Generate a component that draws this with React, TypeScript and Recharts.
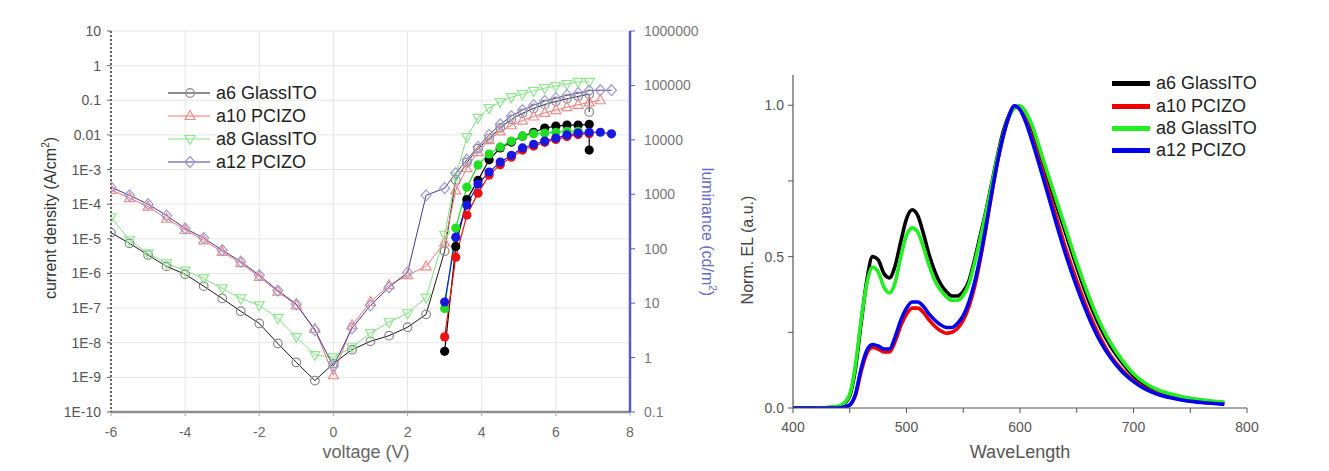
import React from 'react';
import { ComposedChart, LineChart, Line, XAxis, YAxis, CartesianGrid } from 'recharts';

// ---------- series names ----------
const seriesNames = ['a6 GlassITO', 'a10 PCIZO', 'a8 GlassITO', 'a12 PCIZO'];

// ---------- left panel: J-V-L ----------
const a6Voltage = [-6, -5.5, -5, -4.5, -4, -3.5, -3, -2.5, -2, -1.5, -1, -0.5, 0, 0.5, 1, 1.5, 2, 2.5, 3, 3.3, 3.6, 3.9, 4.2, 4.5, 4.8, 5.1, 5.4, 5.7, 6, 6.3, 6.6, 6.9, 6.9];
const a6Current = [1.5e-5, 7.4e-6, 3.4e-6, 1.6e-6, 9.5e-7, 4.3e-7, 1.9e-7, 8.1e-8, 3.6e-8, 9.5e-9, 2.7e-9, 8.1e-10, 2.5e-9, 6.3e-9, 1.1e-8, 1.6e-8, 2.8e-8, 6.6e-8, 4.4e-6, 5.0e-4, 1.6e-3, 4.0e-3, 7.9e-3, 1.6e-2, 2.8e-2, 4.2e-2, 5.8e-2, 7.6e-2, 9.3e-2, 0.11, 0.13, 0.15, 0.046];

const a10Voltage = [-6, -5.5, -5, -4.5, -4, -3.5, -3, -2.5, -2, -1.5, -1, -0.5, 0, 0.5, 1, 1.5, 2, 2.5, 3, 3.3, 3.6, 3.9, 4.2, 4.5, 4.8, 5.1, 5.4, 5.7, 6, 6.3, 6.6, 6.9, 7.2];
const a10Current = [2.6e-4, 1.5e-4, 8.5e-5, 3.8e-5, 1.8e-5, 9e-6, 4.2e-6, 2.0e-6, 8e-7, 3e-7, 1.2e-7, 2.5e-8, 1.15e-9, 3.2e-8, 1.5e-7, 4.6e-7, 8.9e-7, 1.6e-6, 7.9e-6, 2.5e-4, 1.1e-3, 3.2e-3, 7.1e-3, 1.26e-2, 1.9e-2, 2.6e-2, 3.4e-2, 4.3e-2, 5.2e-2, 6.3e-2, 7.4e-2, 8.7e-2, 0.1];

const a8Voltage = [-6, -5.5, -5, -4.5, -4, -3.5, -3, -2.5, -2, -1.5, -1, -0.5, 0, 0.5, 1, 1.5, 2, 2.5, 3, 3.3, 3.6, 3.9, 4.2, 4.5, 4.8, 5.1, 5.4, 5.7, 6, 6.3, 6.6, 6.9];
const a8Current = [4.2e-5, 9.1e-6, 3.8e-6, 1.95e-6, 1.2e-6, 7.2e-7, 3.7e-7, 1.9e-7, 1.2e-7, 5.1e-8, 1.45e-8, 4.4e-9, 3.8e-9, 7.4e-9, 1.9e-8, 3.9e-8, 7.1e-8, 2.0e-7, 1.3e-5, 6.3e-4, 8.7e-3, 3.1e-2, 5.9e-2, 8.9e-2, 0.123, 0.15, 0.186, 0.224, 0.257, 0.295, 0.339, 0.339];

const a12Voltage = [-6, -5.5, -5, -4.5, -4, -3.5, -3, -2.5, -2, -1.5, -1, -0.5, 0, 0.5, 1, 1.5, 2, 2.5, 3, 3.3, 3.6, 3.9, 4.2, 4.5, 4.8, 5.1, 5.4, 5.7, 6, 6.3, 6.6, 6.9, 7.2, 7.5];
const a12Current = [3.1e-4, 1.8e-4, 1.0e-4, 4.7e-5, 2.0e-5, 1.05e-5, 4.7e-6, 2.2e-6, 8.9e-7, 3.2e-7, 1.3e-7, 2.3e-8, 2.1e-9, 2.6e-8, 1.2e-7, 4.0e-7, 1.07e-6, 1.8e-4, 2.9e-4, 7.9e-4, 1.9e-3, 4.5e-3, 1.0e-2, 2.0e-2, 3.5e-2, 5.2e-2, 7.2e-2, 9.5e-2, 0.115, 0.14, 0.16, 0.19, 0.195, 0.195];

const a6LumVoltage = [3, 3.3, 3.6, 3.9, 4.2, 4.5, 4.8, 5.1, 5.4, 5.7, 6, 6.3, 6.6, 6.9, 6.9];
const a6Luminance = [1.3, 110, 800, 1800, 4300, 7100, 9100, 11700, 13800, 16500, 17900, 18700, 18700, 19300, 6500];
const a10LumVoltage = [3, 3.3, 3.6, 3.9, 4.2, 4.5, 4.8, 5.1, 5.4, 5.7, 6, 6.3, 6.6, 6.9];
const a10Luminance = [2.4, 70, 415, 1050, 2250, 3500, 4800, 6500, 7700, 9000, 10200, 11500, 12500, 13000];
const a8LumVoltage = [3, 3.3, 3.6, 3.9, 4.2, 4.5, 4.8, 5.1, 5.4, 5.7, 6, 6.3, 6.6];
const a8Luminance = [8, 240, 1350, 3460, 5500, 7400, 9500, 11700, 12900, 13300, 13800, 14400, 14400];
const a12LumVoltage = [3, 3.3, 3.6, 3.9, 4.2, 4.5, 4.8, 5.1, 5.4, 5.7, 6, 6.3, 6.6, 6.9, 7.2, 7.5];
const a12Luminance = [10.5, 163, 630, 1540, 2560, 3900, 5200, 7100, 8300, 9500, 10800, 12300, 13300, 13800, 13800, 12900];

const voltageTicks = [-6, -4, -2, 0, 2, 4, 6, 8];
const voltageMinorTicks = [-6, -5, -4, -3, -2, -1, 0, 1, 2, 3, 4, 5, 6, 7, 8];
const currentTicks = [1e-10, 1e-9, 1e-8, 1e-7, 1e-6, 1e-5, 1e-4, 1e-3, 1e-2, 1e-1, 1, 10];
const currentTickLabels = ['1E-10', '1E-9', '1E-8', '1E-7', '1E-6', '1E-5', '1E-4', '1E-3', '0.01', '0.1', '1', '10'];
const lumTicks = [0.1, 1, 10, 100, 1000, 10000, 100000, 1000000];
const lumTickLabels = ['0.1', '1', '10', '100', '1000', '10000', '100000', '1000000'];

// ---------- right panel: EL spectra ----------
const wavelength = [400, 420, 440, 445, 450, 455, 460, 465, 470, 475, 480, 485, 490, 495, 500, 505, 510, 515, 520, 525, 530, 535, 540, 545, 550, 555, 560, 565, 570, 575, 580, 585, 590, 595, 600, 605, 610, 620, 630, 640, 650, 660, 670, 680, 690, 700, 710, 720, 740, 760, 780];
const elA6 = [0, 0, 0.005, 0.014, 0.04, 0.13, 0.28, 0.42, 0.5, 0.49, 0.445, 0.43, 0.47, 0.55, 0.625, 0.655, 0.635, 0.575, 0.505, 0.45, 0.41, 0.385, 0.37, 0.37, 0.385, 0.42, 0.49, 0.57, 0.65, 0.74, 0.83, 0.91, 0.965, 0.995, 0.996, 0.97, 0.93, 0.81, 0.695, 0.58, 0.465, 0.36, 0.272, 0.203, 0.15, 0.106, 0.078, 0.058, 0.037, 0.025, 0.017];
const elA10 = [0, 0, 0, 0.003, 0.01, 0.042, 0.12, 0.18, 0.2, 0.195, 0.185, 0.185, 0.22, 0.272, 0.31, 0.33, 0.33, 0.315, 0.29, 0.27, 0.255, 0.247, 0.25, 0.263, 0.29, 0.335, 0.4, 0.49, 0.595, 0.705, 0.81, 0.895, 0.96, 0.996, 0.99, 0.953, 0.9, 0.78, 0.655, 0.53, 0.42, 0.32, 0.238, 0.172, 0.126, 0.09, 0.066, 0.05, 0.03, 0.02, 0.014];
const elA8 = [0, 0, 0.006, 0.016, 0.045, 0.14, 0.29, 0.41, 0.465, 0.45, 0.4, 0.38, 0.415, 0.5, 0.57, 0.595, 0.58, 0.53, 0.47, 0.42, 0.39, 0.368, 0.356, 0.356, 0.372, 0.41, 0.48, 0.56, 0.645, 0.735, 0.825, 0.9, 0.96, 0.99, 0.998, 0.978, 0.94, 0.825, 0.71, 0.595, 0.48, 0.375, 0.285, 0.214, 0.158, 0.113, 0.083, 0.062, 0.04, 0.027, 0.019];
const elA12 = [0, 0, 0, 0.003, 0.01, 0.045, 0.13, 0.19, 0.21, 0.205, 0.195, 0.195, 0.235, 0.29, 0.33, 0.35, 0.35, 0.335, 0.31, 0.29, 0.275, 0.266, 0.266, 0.28, 0.305, 0.35, 0.415, 0.5, 0.6, 0.71, 0.81, 0.895, 0.96, 0.998, 0.985, 0.945, 0.89, 0.765, 0.635, 0.51, 0.4, 0.305, 0.225, 0.165, 0.12, 0.087, 0.063, 0.047, 0.028, 0.018, 0.012];

const wlTicks = [400, 450, 500, 550, 600, 650, 700, 750, 800];
const elTicks = [0, 0.25, 0.5, 0.75, 1.0];

// ---------- styles ----------
const jLineColors = ['#1a1a1a', '#f07474', '#7fe07f', '#4a3590'];
const jMarkerColors = ['#8a8a8a', '#f08c8c', '#8fe88f', '#9a9ad4'];
const lumColors = ['#000000', '#ee1111', '#22dd22', '#1818e0'];
const specColors = ['#000000', '#ee0000', '#22ee22', '#0000ee'];
const FONT = '"Liberation Sans", Arial, sans-serif';

const toPoints = (vs: number[], ys: number[]) => vs.map((v, i) => ({ v, y: ys[i] }));

const jSeries = [
  toPoints(a6Voltage, a6Current),
  toPoints(a10Voltage, a10Current),
  toPoints(a8Voltage, a8Current),
  toPoints(a12Voltage, a12Current),
];
const lumSeries = [
  toPoints(a6LumVoltage, a6Luminance),
  toPoints(a10LumVoltage, a10Luminance),
  toPoints(a8LumVoltage, a8Luminance),
  toPoints(a12LumVoltage, a12Luminance),
];
const specTable = wavelength.map((w, i) => ({ w, a6: elA6[i], a10: elA10[i], a8: elA8[i], a12: elA12[i] }));
const specKeys = ['a6', 'a10', 'a8', 'a12'];

function markerShape(kind: number, cx: number, cy: number, stroke: string, key: string) {
  if (kind === 0) return <circle key={key} cx={cx} cy={cy} r={4.3} fill="none" stroke={stroke} strokeWidth={1.2} />;
  if (kind === 1) return <polygon key={key} points={`${cx},${cy - 5.5} ${cx - 5},${cy + 3.5} ${cx + 5},${cy + 3.5}`} fill="none" stroke={stroke} strokeWidth={1.2} />;
  if (kind === 2) return <polygon key={key} points={`${cx},${cy + 5.5} ${cx - 5},${cy - 3.5} ${cx + 5},${cy - 3.5}`} fill="none" stroke={stroke} strokeWidth={1.2} />;
  return <polygon key={key} points={`${cx},${cy - 5.5} ${cx + 5},${cy} ${cx},${cy + 5.5} ${cx - 5},${cy}`} fill="none" stroke={stroke} strokeWidth={1.2} />;
}

const logLabel = (ticks: number[], labels: string[]) => (v: number) => {
  const idx = ticks.findIndex((t) => Math.abs(Math.log10(t) - Math.log10(v)) < 0.01);
  return idx >= 0 ? labels[idx] : '';
};

function LeftChart() {
  return (
    <ComposedChart width={720} height={471} margin={{ top: 31, right: 30, bottom: 29, left: 51 }}>
      <CartesianGrid xAxisId="b" yAxisId="j" stroke="#e6e6e6" strokeWidth={1} />
      <XAxis
        xAxisId="b"
        type="number"
        dataKey="v"
        domain={[-6, 8]}
        ticks={voltageTicks}
        allowDataOverflow
        height={30}
        axisLine={{ stroke: '#8c8c8c', strokeWidth: 2.5 }}
        tickLine={{ stroke: '#aaa' }}
        tickSize={4}
        tickMargin={11}
        tick={{ fill: '#666', fontSize: 14, fontFamily: FONT }}
        interval={0}
      />
      <XAxis
        xAxisId="t"
        orientation="top"
        type="number"
        dataKey="v"
        domain={[-6, 8]}
        ticks={voltageMinorTicks}
        allowDataOverflow
        height={0}
        mirror
        axisLine={{ stroke: '#111', strokeWidth: 1.5 }}
        tickLine={{ stroke: '#bbb' }}
        tickSize={3}
        tickFormatter={() => ''}
        interval={0}
      />
      <YAxis
        yAxisId="j"
        scale="log"
        domain={[1e-10, 10]}
        ticks={currentTicks}
        allowDataOverflow
        width={60}
        axisLine={{ stroke: '#333', strokeWidth: 1.5, strokeDasharray: '2 2' }}
        tickLine={{ stroke: '#666' }}
        tickSize={4}
        tickMargin={6}
        tick={{ fill: '#555', fontSize: 14, fontFamily: FONT }}
        tickFormatter={logLabel(currentTicks, currentTickLabels)}
        interval={0}
      />
      <YAxis
        yAxisId="l"
        orientation="right"
        scale="log"
        domain={[0.1, 1000000]}
        ticks={lumTicks}
        allowDataOverflow
        width={60}
        axisLine={{ stroke: '#5a5ac8', strokeWidth: 2.5 }}
        tickLine={{ stroke: '#5a5ac8' }}
        tickSize={5}
        tickMargin={9}
        tick={{ fill: '#777', fontSize: 14, fontFamily: FONT }}
        tickFormatter={logLabel(lumTicks, lumTickLabels)}
        interval={0}
      />
      {jSeries.map((pts, s) => (
        <Line
          key={`j${s}`}
          xAxisId="b"
          yAxisId="j"
          data={pts}
          dataKey="y"
          type="linear"
          stroke={jLineColors[s]}
          strokeWidth={1}
          isAnimationActive={false}
          activeDot={false}
          dot={(p: any) => markerShape(s, p.cx, p.cy, jMarkerColors[s], `jm${s}-${p.index}`)}
        />
      ))}
      {lumSeries.map((pts, s) => (
        <Line
          key={`l${s}`}
          xAxisId="b"
          yAxisId="l"
          data={pts}
          dataKey="y"
          type="linear"
          stroke={lumColors[s]}
          strokeWidth={1.2}
          isAnimationActive={false}
          activeDot={false}
          dot={(p: any) => <circle key={`lm${s}-${p.index}`} cx={p.cx} cy={p.cy} r={4.6} fill={lumColors[s]} stroke="none" />}
        />
      ))}
    </ComposedChart>
  );
}

function RightChart() {
  return (
    <LineChart width={629} height={471} data={specTable} margin={{ top: 75, right: 82, bottom: 33, left: 33 }}>
      <XAxis
        type="number"
        dataKey="w"
        domain={[400, 800]}
        ticks={wlTicks}
        height={30}
        axisLine={{ stroke: '#555', strokeWidth: 1.2 }}
        tickLine={{ stroke: '#555' }}
        tickSize={5}
        tickMargin={9}
        tick={{ fill: '#555', fontSize: 14, fontFamily: FONT }}
        tickFormatter={(v: number) => (v % 100 === 0 ? String(v) : '')}
        interval={0}
      />
      <YAxis
        domain={[0, 1.1]}
        ticks={elTicks}
        allowDataOverflow
        width={60}
        axisLine={{ stroke: '#555', strokeWidth: 1.2 }}
        tickLine={{ stroke: '#555' }}
        tickSize={5}
        tickMargin={4}
        tick={{ fill: '#555', fontSize: 14, fontFamily: FONT }}
        tickFormatter={(v: number) => (Math.abs(v * 2 - Math.round(v * 2)) < 1e-6 ? v.toFixed(1) : '')}
        interval={0}
      />
      {specKeys.map((k, s) => (
        <Line
          key={k}
          dataKey={k}
          type="monotone"
          stroke={specColors[s]}
          strokeWidth={3.6}
          dot={false}
          activeDot={false}
          isAnimationActive={false}
        />
      ))}
    </LineChart>
  );
}

const abs = (left: number, top: number, extra: React.CSSProperties = {}): React.CSSProperties => ({
  position: 'absolute',
  left,
  top,
  whiteSpace: 'nowrap',
  fontFamily: FONT,
  ...extra,
});

export default function App() {
  const leftLegendY = [93, 116, 139, 162];
  const rightLegendY = [83, 106, 128, 150];
  return (
    <div style={{ position: 'absolute', left: 0, top: 0, width: 1329, height: 471, background: '#fff', overflow: 'hidden' }}>
      <div style={{ position: 'absolute', left: 0, top: 0 }}>
        <LeftChart />
      </div>
      <div style={{ position: 'absolute', left: 700, top: 0 }}>
        <RightChart />
      </div>

      {/* left panel titles */}
      <div style={abs(50, 218, { transform: 'translate(-50%, -50%) rotate(-90deg)', fontSize: 16, color: '#333' })}>
        current density (A/cm<sup style={{ fontSize: 10 }}>2</sup>)
      </div>
      <div style={abs(708, 232, { transform: 'translate(-50%, -50%) rotate(90deg)', fontSize: 16, color: '#6a6ac8' })}>
        luminance (cd/m<sup style={{ fontSize: 10 }}>2</sup>)
      </div>
      <div style={abs(366, 452, { transform: 'translate(-50%, -50%)', fontSize: 18, color: '#666' })}>voltage (V)</div>

      {/* right panel titles */}
      <div style={abs(748, 250, { transform: 'translate(-50%, -50%) rotate(-90deg)', fontSize: 16, color: '#444' })}>Norm. EL (a.u.)</div>
      <div style={abs(1020, 452, { transform: 'translate(-50%, -50%)', fontSize: 18, color: '#555' })}>WaveLength</div>

      {/* left legend */}
      {seriesNames.map((name, s) => (
        <div key={`ll${s}`}>
          <svg style={{ position: 'absolute', left: 166, top: leftLegendY[s] - 8 }} width={48} height={16}>
            <line x1={2} y1={8} x2={44} y2={8} stroke={jLineColors[s]} strokeWidth={1} />
            {markerShape(s, 24, 8, jMarkerColors[s], `lg${s}`)}
          </svg>
          <div style={abs(216, leftLegendY[s], { transform: 'translateY(-50%)', fontSize: 18, color: '#222' })}>{name}</div>
        </div>
      ))}

      {/* right legend */}
      {seriesNames.map((name, s) => (
        <div key={`rl${s}`}>
          <div style={{ position: 'absolute', left: 1112, top: rightLegendY[s] - 2.5, width: 38, height: 5, background: specColors[s] }} />
          <div style={abs(1156, rightLegendY[s], { transform: 'translateY(-50%)', fontSize: 18, color: '#222' })}>{name}</div>
        </div>
      ))}
    </div>
  );
}
